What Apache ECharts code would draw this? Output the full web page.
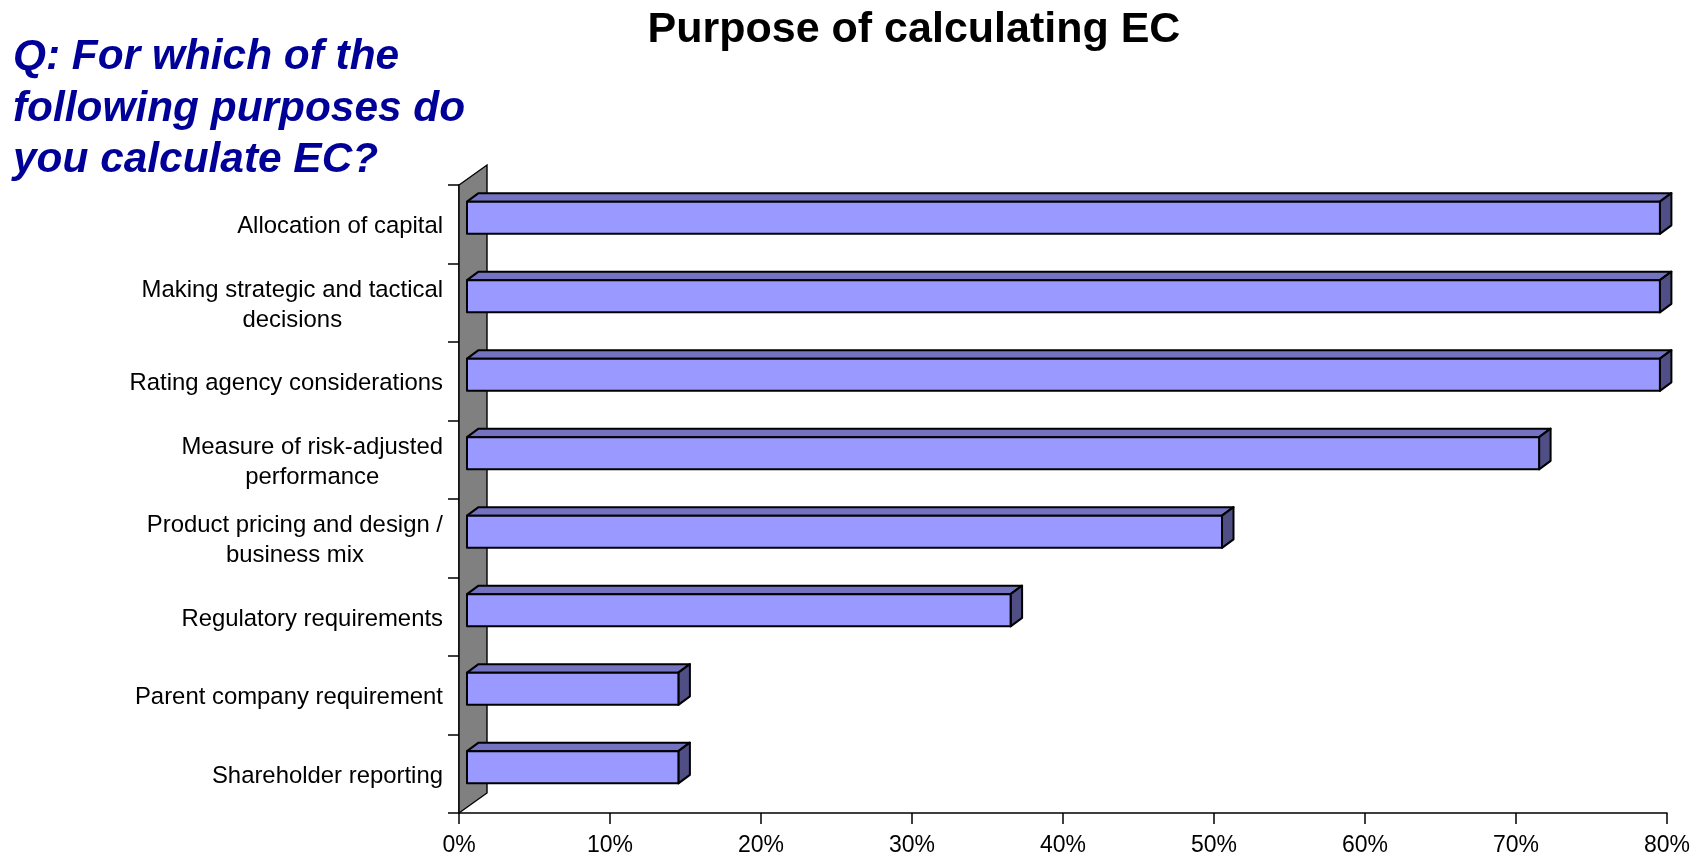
<!DOCTYPE html>
<html>
<head>
<meta charset="utf-8">
<title>Purpose of calculating EC</title>
<script src="https://cdn.jsdelivr.net/npm/echarts@6/dist/echarts.min.js"></script>
<style>
  html, body { margin: 0; padding: 0; background: #fff; }
  #chart { width: 1702px; height: 857px; }
</style>
</head>
<body>
<div id="chart"></div>
<script>
// data
const categories = [
  'Allocation of capital',
  'Making strategic and tactical\ndecisions',
  'Rating agency considerations',
  'Measure of risk-adjusted\nperformance',
  'Product pricing and design /\nbusiness mix',
  'Regulatory requirements',
  'Parent company requirement',
  'Shareholder reporting'
];
const shares = [79, 79, 79, 71, 50, 36, 14, 14]; // percent
const xTicks = [0, 10, 20, 30, 40, 50, 60, 70, 80];

// colours of the fake 3D bars
const frontColor = '#9999FF';
const topColor = '#7373C2';
const sideColor = '#4F4F86';
const wallColor = '#808080';

// depth of the back wall and of the bars (pixels)
const wallDx = 28, wallDy = -20;
const barShiftX = 8, barShiftY = -6.5;
const barDx = 11.5, barDy = -8.5;

const chart = echarts.init(document.getElementById('chart'));

// back wall behind the category axis
const renderWall = (params, api) => {
  const cs = params.coordSys;
  const x = cs.x, yTop = cs.y, yBot = cs.y + cs.height;
  return {
    type: 'polygon',
    shape: { points: [[x, yBot], [x, yTop], [x + wallDx, yTop + wallDy], [x + wallDx, yBot + wallDy]] },
    style: { fill: wallColor, stroke: '#000', lineWidth: 1.4 }
  };
};

// one 3D bar: top face, side face, front face
const renderBar = (params, api) => {
  const idx = api.value(1);
  const start = api.coord([0, idx]);
  const end = api.coord([api.value(0), idx]);
  const band = api.size([0, 1])[1];
  const h = band * 0.41;
  const x0 = start[0] + barShiftX;
  const x1 = end[0] + barShiftX;
  const yTop = start[1] + barShiftY - h / 2;
  const yBot = yTop + h;
  const line = { stroke: '#000', lineWidth: 2, lineJoin: 'round' };
  return {
    type: 'group',
    children: [
      {
        type: 'polygon',
        shape: { points: [[x0, yTop], [x0 + barDx, yTop + barDy], [x1 + barDx, yTop + barDy], [x1, yTop]] },
        style: Object.assign({ fill: topColor }, line)
      },
      {
        type: 'polygon',
        shape: { points: [[x1, yTop], [x1 + barDx, yTop + barDy], [x1 + barDx, yBot + barDy], [x1, yBot]] },
        style: Object.assign({ fill: sideColor }, line)
      },
      {
        type: 'rect',
        shape: { x: x0, y: yTop, width: x1 - x0, height: h },
        style: Object.assign({ fill: frontColor }, line)
      }
    ]
  };
};

const option = {
  backgroundColor: '#fff',
  animation: false,
  title: {
    text: 'Purpose of calculating EC',
    left: 909,
    textAlign: 'center',
    top: 4,
    textStyle: {
      fontFamily: 'Liberation Sans, Arial, sans-serif',
      fontSize: 43,
      fontWeight: 'bold',
      color: '#000'
    }
  },
  graphic: [
    {
      type: 'text',
      left: 13,
      top: 32,
      style: {
        text: 'Q: For which of the\nfollowing purposes do\nyou calculate EC?',
        font: 'italic bold 42.4px "Liberation Sans", Arial, sans-serif',
        fill: '#000099',
        lineHeight: 51.5
      }
    }
  ],
  grid: {
    left: 459,
    right: 35,
    top: 185,
    bottom: 44,
    containLabel: false
  },
  xAxis: {
    type: 'value',
    min: 0,
    max: 80,
    interval: 10,
    splitLine: { show: false },
    axisLine: { show: true, lineStyle: { color: '#000', width: 1.5 } },
    axisTick: { show: true, length: 11, lineStyle: { color: '#000', width: 1.5 } },
    axisLabel: {
      margin: 21,
      fontFamily: 'Liberation Sans, Arial, sans-serif',
      fontSize: 23,
      color: '#000',
      formatter: (v) => (xTicks.indexOf(v) >= 0 ? v + '%' : '')
    }
  },
  yAxis: {
    type: 'category',
    data: categories,
    inverse: true,
    axisLine: { show: true, lineStyle: { color: '#000', width: 1.5 } },
    axisTick: { show: true, length: 11, lineStyle: { color: '#000', width: 1.5 } },
    axisLabel: {
      margin: 16,
      padding: [5, 0, 0, 0],
      fontFamily: 'Liberation Sans, Arial, sans-serif',
      fontSize: 23.9,
      color: '#000',
      lineHeight: 30,
      // centre the lines of two-line labels on each other
      formatter: (v) => v.split('\n').map(l => '{c|' + l + '}').join('\n'),
      rich: {
        c: {
          align: 'center',
          fontFamily: 'Liberation Sans, Arial, sans-serif',
          fontSize: 23.9,
          lineHeight: 30,
          color: '#000'
        }
      }
    }
  },
  series: [
    {
      name: 'wall',
      type: 'custom',
      renderItem: renderWall,
      data: [[0, 0]],
      encode: { x: 0, y: 1 },
      silent: true,
      z: 1
    },
    {
      name: 'Share',
      type: 'custom',
      renderItem: renderBar,
      data: shares.map((v, i) => [v, i]),
      encode: { x: 0, y: 1 },
      z: 3
    }
  ]
};

chart.setOption(option);
</script>
</body>
</html>
